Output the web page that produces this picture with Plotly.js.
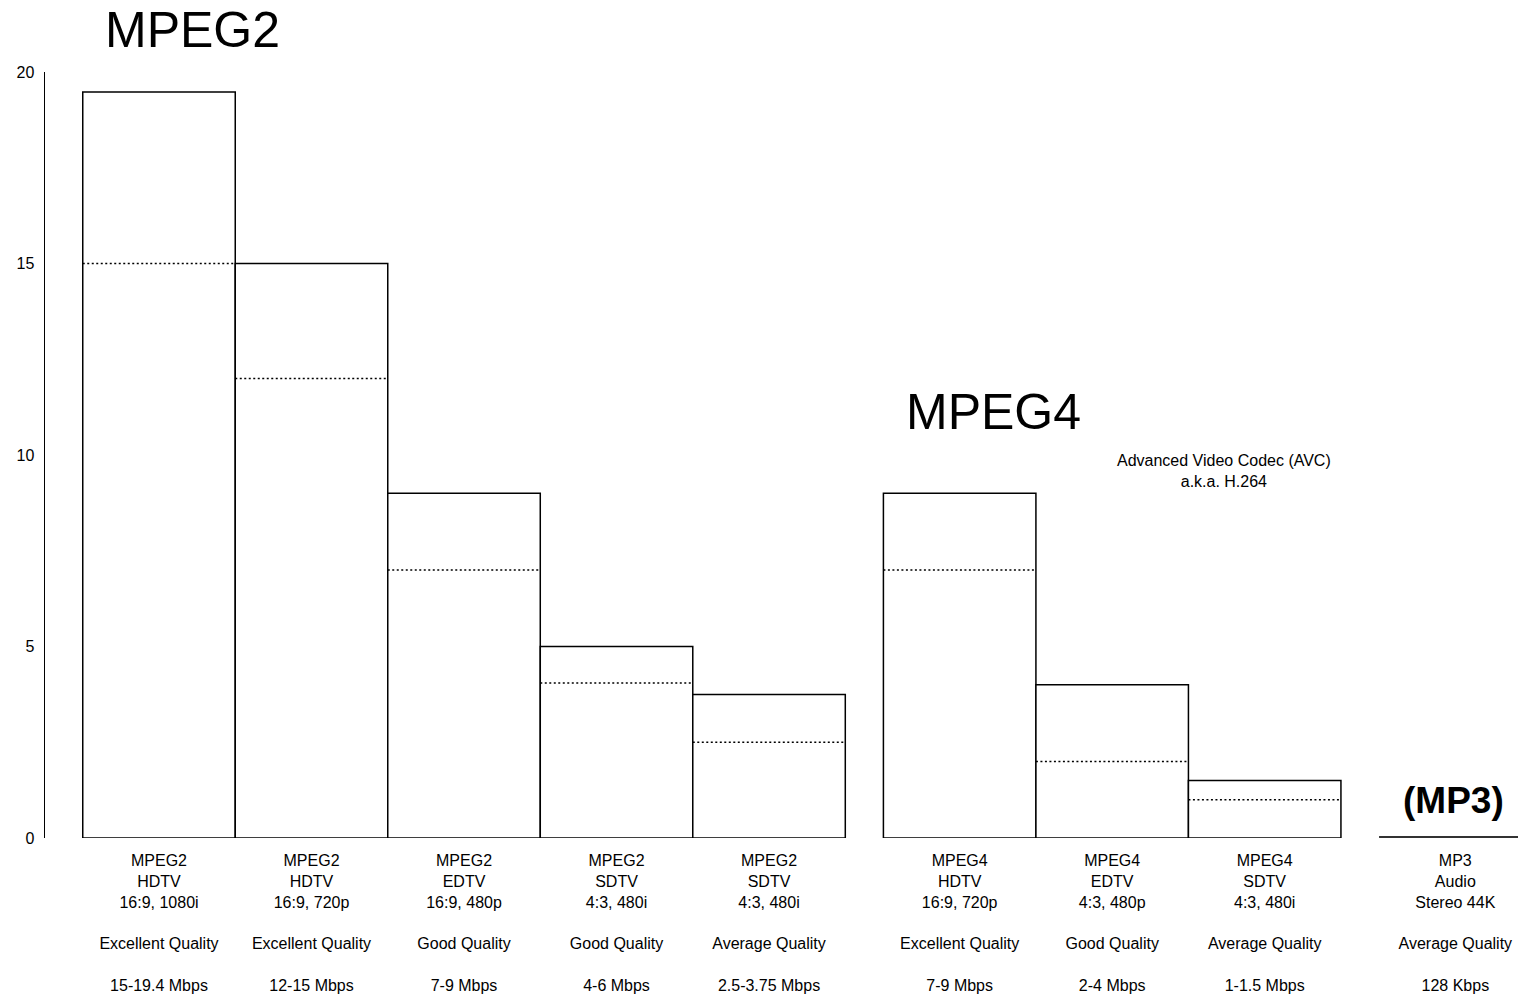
<!DOCTYPE html>
<html>
<head>
<meta charset="utf-8">
<script src="https://cdn.plot.ly/plotly-3.0.1.min.js"></script>
<style>html,body{margin:0;padding:0;background:#fff;}#chart{width:1518px;height:997px;}</style>
</head>
<body>
<div id="chart"></div>
<script>
// ---- data ----
const mpeg2Names    = ["MPEG2", "MPEG2", "MPEG2", "MPEG2", "MPEG2"];
const mpeg2Types    = ["HDTV", "HDTV", "EDTV", "SDTV", "SDTV"];
const mpeg2Formats  = ["16:9, 1080i", "16:9, 720p", "16:9, 480p", "4:3, 480i", "4:3, 480i"];
const mpeg2Quality  = ["Excellent Quality", "Excellent Quality", "Good Quality", "Good Quality", "Average Quality"];
const mpeg2Rates    = ["15-19.4 Mbps", "12-15 Mbps", "7-9 Mbps", "4-6 Mbps", "2.5-3.75 Mbps"];
const mpeg2Max      = [19.48, 15, 9, 5, 3.75];
const mpeg2Min      = [15, 12, 7, 4.05, 2.5];

const mpeg4Names    = ["MPEG4", "MPEG4", "MPEG4"];
const mpeg4Types    = ["HDTV", "EDTV", "SDTV"];
const mpeg4Formats  = ["16:9, 720p", "4:3, 480p", "4:3, 480i"];
const mpeg4Quality  = ["Excellent Quality", "Good Quality", "Average Quality"];
const mpeg4Rates    = ["7-9 Mbps", "2-4 Mbps", "1-1.5 Mbps"];
const mpeg4Max      = [9, 4, 1.5];
const mpeg4Min      = [7, 2, 1];

const mp3Names      = ["MP3"];
const mp3Types      = ["Audio"];
const mp3Formats    = ["Stereo 44K"];
const mp3Quality    = ["Average Quality"];
const mp3Rates      = ["128 Kbps"];
const mp3Max        = [0.05];

const yTicks = [0, 5, 10, 15, 20];

// ---- layout helpers ----
const FONT = 'Arial, "Liberation Sans", sans-serif';
const GROUP_GAP = 0.25;
const groups = [
  {names: mpeg2Names, types: mpeg2Types, formats: mpeg2Formats, quality: mpeg2Quality, rates: mpeg2Rates, max: mpeg2Max, min: mpeg2Min, fill: '#ffffff', lw: 1.5},
  {names: mpeg4Names, types: mpeg4Types, formats: mpeg4Formats, quality: mpeg4Quality, rates: mpeg4Rates, max: mpeg4Max, min: mpeg4Min, fill: '#ffffff', lw: 1.5},
  {names: mp3Names, types: mp3Types, formats: mp3Formats, quality: mp3Quality, rates: mp3Rates, max: mp3Max, min: null, fill: '#333333', lw: 0}
];

const traces = [];
const tickvals = [], ticktext = [];
let idx = 0;
groups.forEach((g, gi) => {
  const xs = g.max.map((_, i) => idx + i + gi * GROUP_GAP);
  idx += g.max.length;
  xs.forEach((x, i) => {
    tickvals.push(x);
    ticktext.push([g.names[i], g.types[i], g.formats[i], '', g.quality[i], '', g.rates[i]].join('<br>'));
  });
  traces.push({
    type: 'bar', x: xs, y: g.max, width: 1,
    marker: {color: g.fill, line: {color: '#000', width: g.lw}},
    hoverinfo: 'y', showlegend: false
  });
  if (g.min) {
    const lx = [], ly = [];
    xs.forEach((x, i) => { lx.push(x - 0.5, x + 0.5, null); ly.push(g.min[i], g.min[i], null); });
    traces.push({
      type: 'scatter', mode: 'lines', x: lx, y: ly,
      line: {color: '#000', width: 1.5, dash: '2px,2.5px'},
      hoverinfo: 'skip', showlegend: false
    });
  }
});

const layout = {
  width: 1518, height: 997,
  margin: {l: 45, r: 0, t: 72, b: 159, pad: 0},
  paper_bgcolor: '#fff', plot_bgcolor: '#fff',
  barmode: 'overlay',
  font: {family: FONT, size: 16, color: '#000'},
  xaxis: {
    range: [-0.7475, 8.911], showgrid: false, zeroline: false, showline: false,
    ticks: '', tickvals: tickvals, ticktext: ticktext, tickangle: 0,
    tickfont: {family: FONT, size: 16, color: '#000'}, ticklabelstandoff: 11
  },
  yaxis: {
    range: [0, 20], showgrid: false, zeroline: false, showline: true,
    linecolor: '#000', linewidth: 1.5, ticks: '', tickvals: yTicks,
    tickfont: {family: FONT, size: 16, color: '#000'}, ticklabelstandoff: 6
  },
  annotations: [
    {text: 'MPEG2', xref: 'x', yref: 'paper', x: 0.22, y: 1.055, showarrow: false, font: {family: FONT, size: 50, color: '#000'}, xanchor: 'center', yanchor: 'middle'},
    {text: 'MPEG4', xref: 'x', yref: 'y', x: 5.47, y: 11.12, showarrow: false, font: {family: FONT, size: 50, color: '#000'}, xanchor: 'center', yanchor: 'middle'},
    {text: 'Advanced Video Codec (AVC)<br>a.k.a. H.264', xref: 'x', yref: 'y', x: 6.98, y: 9.57, showarrow: false, font: {family: FONT, size: 16, color: '#000'}, xanchor: 'center', yanchor: 'middle'},
    {text: '<b>(MP3)</b>', xref: 'x', yref: 'y', x: 8.49, y: 0.99, showarrow: false, font: {family: FONT, size: 37, color: '#000'}, xanchor: 'center', yanchor: 'middle'}
  ]
};

Plotly.newPlot('chart', traces, layout, {displayModeBar: false, staticPlot: true});
</script>
</body>
</html>
